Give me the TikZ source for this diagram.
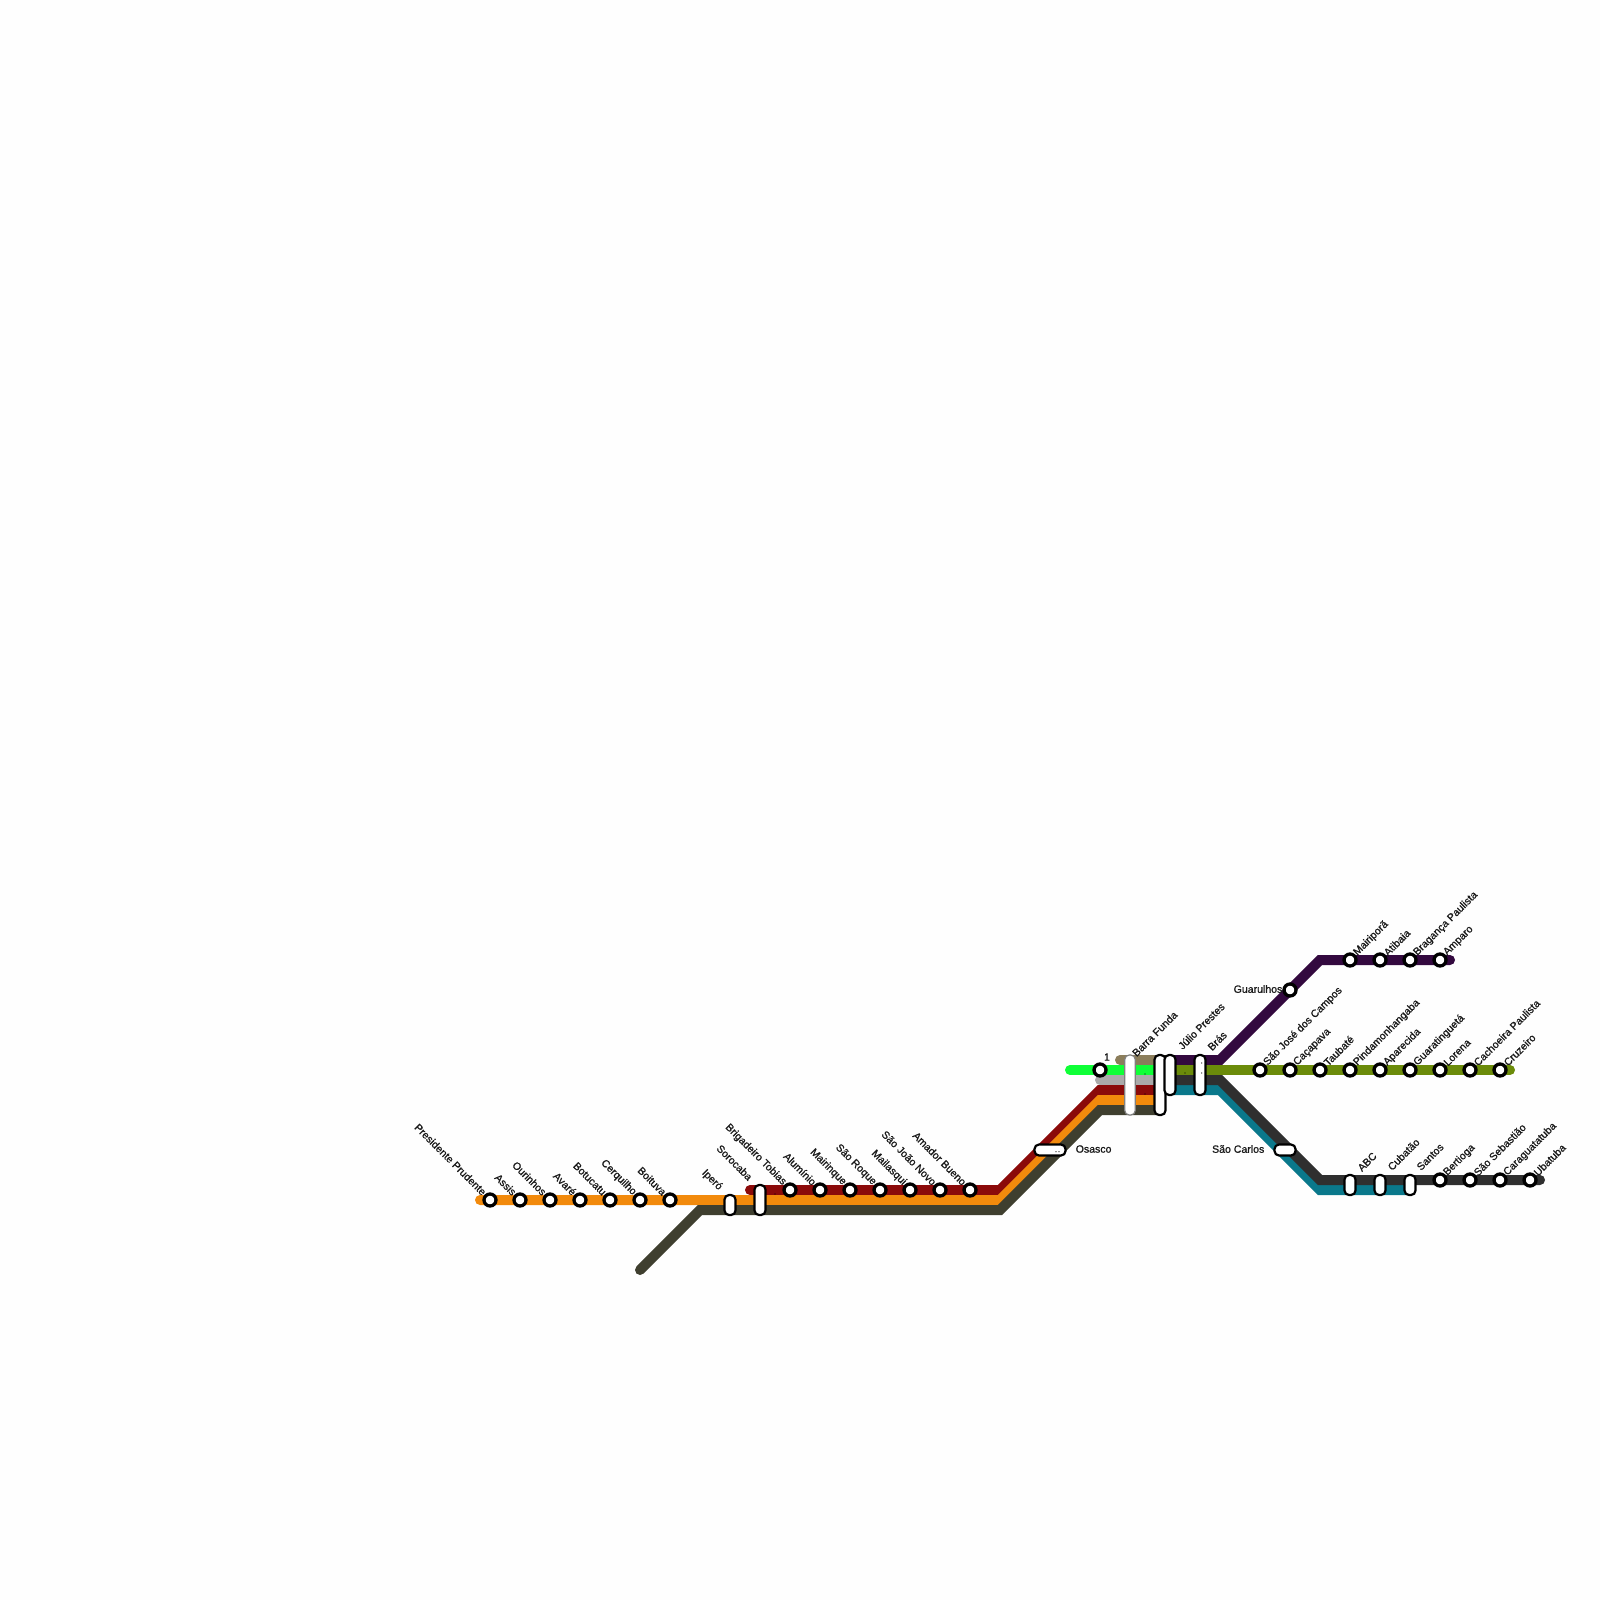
\documentclass[tikz,border=0pt]{standalone}
\usepackage{xcolor}
\usepackage{fontspec}
\setmainfont{Liberation Sans}
\newfontfamily\lblfont{Liberation Sans}[FakeBold=1]
\definecolor{lnorange}{HTML}{F28A0C}
\definecolor{lnolive}{HTML}{3F3F2F}
\definecolor{lnred}{HTML}{8B0A0A}
\definecolor{lngray}{HTML}{AAAAAA}
\definecolor{lngreen}{HTML}{0FFF37}
\definecolor{lntan}{HTML}{8B7D5B}
\definecolor{lnpurple}{HTML}{33093F}
\definecolor{lnmoss}{HTML}{6B8B0A}
\definecolor{lndark}{HTML}{2F2F2F}
\definecolor{lnteal}{HTML}{0A788B}
\tikzset{
  rail/.style={line width=0.1cm,line cap=round,line join=miter},
  stn/.style={circle,draw=black,fill=white,line width=0.033cm,minimum size=0.12cm,inner sep=0pt},
  pill/.style={rectangle,draw=black,fill=white,line width=0.022cm,rounded corners=0.045cm,inner sep=0pt,minimum width=0.11cm},
  hpill/.style={rectangle,draw=black,fill=white,line width=0.022cm,rounded corners=0.045cm,inner sep=0pt,minimum height=0.11cm},
  lbl/.style={font=\lblfont\fontsize{3pt}{3.6pt}\selectfont,inner sep=0pt,text=black!90},
  lblne/.style={lbl,anchor=west,xshift=0.05cm,yshift=0.055cm,rotate=45},
  lblnw/.style={lbl,anchor=east,xshift=-0.05cm,yshift=0.06cm,rotate=-45},
  dot/.style={fill=black,circle,inner sep=0pt,minimum size=0.012cm}
}
\begin{document}
\begin{tikzpicture}
\useasboundingbox (0,0) rectangle (16,-16);
\fill[white!99.5!black] (0,0) rectangle (16,-16);

\coordinate (olivea) at (6.4,-12.7);
\coordinate (oliveb) at (7,-12.1);
\coordinate (olivec) at (10,-12.1);
\coordinate (olived) at (11,-11.1);
\coordinate (olivee) at (11.6,-11.1);
\coordinate (orangea) at (4.8,-12);
\coordinate (orangeb) at (10,-12);
\coordinate (orangec) at (11,-11);
\coordinate (oranged) at (11.6,-11);
\coordinate (reda) at (7.5,-11.9);
\coordinate (redb) at (10,-11.9);
\coordinate (redc) at (11,-10.9);
\coordinate (redd) at (11.6,-10.9);
\coordinate (graya) at (11,-10.8);
\coordinate (grayb) at (11.6,-10.8);
\coordinate (greena) at (10.7,-10.7);
\coordinate (greenb) at (11.6,-10.7);
\coordinate (tana) at (11.2,-10.6);
\coordinate (tanb) at (11.7,-10.6);
\coordinate (purplea) at (11.7,-10.6);
\coordinate (purpleb) at (12.2,-10.6);
\coordinate (purplec) at (13.2,-9.6);
\coordinate (purpled) at (14.5,-9.6);
\coordinate (mossa) at (11.7,-10.7);
\coordinate (mossb) at (15.1,-10.7);
\coordinate (teala) at (11.7,-10.9);
\coordinate (tealb) at (12.2,-10.9);
\coordinate (tealc) at (13.2,-11.9);
\coordinate (teald) at (14.1,-11.9);
\coordinate (darka) at (11.7,-10.8);
\coordinate (darkb) at (12.2,-10.8);
\coordinate (darkc) at (13.2,-11.8);
\coordinate (darkd) at (15.4,-11.8);

\draw[rail,lnred] (reda) -- (redb) -- (redc) -- (redd);
\draw[rail,lnorange] (orangea) -- (orangeb) -- (orangec) -- (oranged);
\draw[rail,lnolive] (olivea) -- (oliveb) -- (olivec) -- (olived) -- (olivee);
\draw[rail,lngray] (graya) -- (grayb);
\draw[rail,lngreen] (greena) -- (greenb);
\draw[rail,lntan] (tana) -- (tanb);
\draw[rail,lnpurple] (purplea) -- (purpleb) -- (purplec) -- (purpled);
\draw[rail,lnteal] (teala) -- (tealb) -- (tealc) -- (teald);
\draw[rail,lndark] (darka) -- (darkb) -- (darkc) -- (darkd);
\draw[rail,lnmoss] (mossa) -- (mossb);

\node[stn] (prudente) at (4.9,-12) {};
\node[lblnw] (prudentelbl) at (prudente) {Presidente Prudente};
\node[stn] (assis) at (5.2,-12) {};
\node[lblnw] (assislbl) at (assis) {Assis};
\node[stn] (ourinhos) at (5.5,-12) {};
\node[lblnw] (ourinhoslbl) at (ourinhos) {Ourinhos};
\node[stn] (avare) at (5.8,-12) {};
\node[lblnw] (avarelbl) at (avare) {Avaré};
\node[stn] (botucatu) at (6.1,-12) {};
\node[lblnw] (botucatulbl) at (botucatu) {Botucatu};
\node[stn] (cerquilho) at (6.4,-12) {};
\node[lblnw] (cerquilholbl) at (cerquilho) {Cerquilho};
\node[stn] (boituva) at (6.7,-12) {};
\node[lblnw] (boituvalbl) at (boituva) {Boituva};

\node[pill,minimum height=0.2cm] (ipero) at (7.3,-12.05) {};
\node[lbl,anchor=east,rotate=-45] (iperolbl) at (7.21,-11.89) {Iperó};
\node[pill,minimum height=0.3cm] (sorocaba) at (7.6,-12) {};
\node[lbl,anchor=east,rotate=-45] (sorocabalbl) at (7.51,-11.79) {Sorocaba};

\node[stn] (tobias) at (7.9,-11.9) {};
\node[lblnw] (tobiaslbl) at (tobias) {Brigadeiro Tobias};
\node[stn] (aluminio) at (8.2,-11.9) {};
\node[lblnw] (aluminiolbl) at (aluminio) {Alumínio};
\node[stn] (mairinque) at (8.5,-11.9) {};
\node[lblnw] (mairinquelbl) at (mairinque) {Mairinque};
\node[stn] (saoroque) at (8.8,-11.9) {};
\node[lblnw] (saoroquelbl) at (saoroque) {São Roque};
\node[stn] (mailasqui) at (9.1,-11.9) {};
\node[lblnw] (mailasquilbl) at (mailasqui) {Mailasqui};
\node[stn] (joaonovo) at (9.4,-11.9) {};
\node[lblnw] (joaonovolbl) at (joaonovo) {São João Novo};
\node[stn] (amador) at (9.7,-11.9) {};
\node[lblnw] (amadorlbl) at (amador) {Amador Bueno};

\node[hpill,minimum width=0.31cm] (osasco) at (10.5,-11.5) {};
\node[lbl,anchor=west] (osascolbl) at (10.75,-11.49) {Osasco};

\node[stn] (one) at (11,-10.7) {};
\node[lbl] (onelbl) at (11.07,-10.57) {1};

\node[pill,draw=black!50,line width=0.012cm,minimum width=0.105cm,minimum height=0.6cm] (barrafunda) at (11.3,-10.85) {};
\node[lbl,anchor=west,rotate=45] (barrafundalbl) at (11.335,-10.55) {Barra Funda};
\node[pill,minimum height=0.6cm] (pillc) at (11.6,-10.85) {};
\node[pill,minimum height=0.4cm] (julio) at (11.7,-10.75) {};
\node[lbl,anchor=west,rotate=45] (juliolbl) at (11.795,-10.48) {Júlio Prestes};
\node[pill,minimum height=0.4cm] (bras) at (12,-10.75) {};
\node[lbl,anchor=west,rotate=45] (braslbl) at (12.09,-10.49) {Brás};

\node[stn] (guarulhos) at (12.9,-9.9) {};
\node[lbl,anchor=east] (guarulhoslbl) at (12.83,-9.89) {Guarulhos};
\node[stn] (mairipora) at (13.5,-9.6) {};
\node[lblne] (mairiporalbl) at (mairipora) {Mairiporã};
\node[stn] (atibaia) at (13.8,-9.6) {};
\node[lblne] (atibaialbl) at (atibaia) {Atibaia};
\node[stn] (braganca) at (14.1,-9.6) {};
\node[lblne] (bragancalbl) at (braganca) {Bragança Paulista};
\node[stn] (amparo) at (14.4,-9.6) {};
\node[lblne] (amparolbl) at (amparo) {Amparo};

\node[stn] (saojose) at (12.6,-10.7) {};
\node[lblne] (saojoselbl) at (saojose) {São José dos Campos};
\node[stn] (cacapava) at (12.9,-10.7) {};
\node[lblne] (cacapavalbl) at (cacapava) {Caçapava};
\node[stn] (taubate) at (13.2,-10.7) {};
\node[lblne] (taubatelbl) at (taubate) {Taubaté};
\node[stn] (pinda) at (13.5,-10.7) {};
\node[lblne] (pindalbl) at (pinda) {Pindamonhangaba};
\node[stn] (aparecida) at (13.8,-10.7) {};
\node[lblne] (aparecidalbl) at (aparecida) {Aparecida};
\node[stn] (guara) at (14.1,-10.7) {};
\node[lblne] (guaralbl) at (guara) {Guaratinguetá};
\node[stn] (lorena) at (14.4,-10.7) {};
\node[lblne] (lorenalbl) at (lorena) {Lorena};
\node[stn] (cachoeira) at (14.7,-10.7) {};
\node[lblne] (cachoeiralbl) at (cachoeira) {Cachoeira Paulista};
\node[stn] (cruzeiro) at (15,-10.7) {};
\node[lblne] (cruzeirolbl) at (cruzeiro) {Cruzeiro};

\node[hpill,minimum width=0.21cm] (saocarlos) at (12.85,-11.5) {};
\node[lbl,anchor=east] (saocarloslbl) at (12.65,-11.49) {São Carlos};

\node[pill,minimum height=0.2cm] (abc) at (13.5,-11.85) {};
\node[lbl,anchor=west,rotate=45] (abclbl) at (13.59,-11.7) {ABC};
\node[pill,minimum height=0.2cm] (cubatao) at (13.8,-11.85) {};
\node[lbl,anchor=west,rotate=45] (cubataolbl) at (13.89,-11.69) {Cubatão};
\node[pill,minimum height=0.2cm] (santos) at (14.1,-11.85) {};
\node[lbl,anchor=west,rotate=45] (santoslbl) at (14.18,-11.69) {Santos};
\node[stn] (bertioga) at (14.4,-11.8) {};
\node[lblne] (bertiogalbl) at (bertioga) {Bertioga};
\node[stn] (sebastiao) at (14.7,-11.8) {};
\node[lblne] (sebastiaolbl) at (sebastiao) {São Sebastião};
\node[stn] (caragua) at (15,-11.8) {};
\node[lblne] (caragualbl) at (caragua) {Caraguatatuba};
\node[stn] (ubatuba) at (15.3,-11.8) {};
\node[lblne] (ubatubalbl) at (ubatuba) {Ubatuba};

\node[dot] (dota) at (11.45,-10.74) {};
\node[dot] (dotb) at (11.45,-10.94) {};
\node[dot] (dotc) at (11.85,-10.73) {};
\node[dot] (dotd) at (12.017,-10.63) {};
\node[dot] (dote) at (12.017,-10.73) {};
\node[dot] (dotf) at (7.75,-11.94) {};
\node[dot] (dotg) at (10.56,-11.517) {};
\node[dot] (doth) at (10.59,-11.517) {};
\end{tikzpicture}
\end{document}
